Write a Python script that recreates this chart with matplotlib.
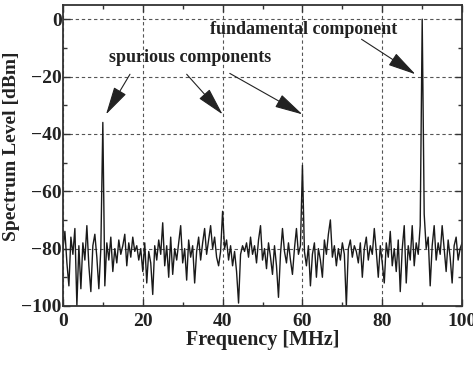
import numpy as np
import matplotlib
matplotlib.use('Agg')
import matplotlib.pyplot as plt

plt.rcParams['font.family'] = ['Liberation Serif', 'DejaVu Serif']
plt.rcParams['font.weight'] = 'bold'
plt.rcParams['axes.unicode_minus'] = True

# noise floor, one value every 0.5 MHz from 0 to 100 MHz
noise_dbm = [
    -80, -74, -85, -93, -76, -82, -73, -100, -79, -94,
    -78, -84, -72, -86, -95, -79, -75, -83, -94, -80,
    -80, -93, -78, -84, -76, -88, -80, -85, -77, -82,
    -79, -75, -86, -78, -83, -76, -81, -79, -84, -80,
    -88, -78, -92, -81, -85, -96, -79, -84, -77, -82,
    -71, -86, -79, -90, -76, -89, -80, -84, -78, -72,
    -85, -80, -91, -77, -83, -79, -92, -81, -76, -84,
    -78, -73, -82, -77, -72, -80, -76, -83, -86, -81,
    -80, -80, -77, -84, -79, -86, -81, -88, -99, -82,
    -79, -81, -78, -83, -76, -82, -79, -85, -77, -72,
    -84, -80, -87, -78, -83, -89, -79, -86, -97, -82,
    -73, -81, -85, -78, -84, -89, -80, -73, -82, -79,
    -80, -81, -86, -79, -93, -82, -78, -90, -80, -84,
    -90, -77, -82, -75, -70, -83, -79, -86, -80, -84,
    -78, -82, -100, -80, -77, -83, -79, -81, -85, -78,
    -90, -80, -76, -84, -79, -82, -73, -81, -90, -79,
    -85, -92, -78, -83, -74, -86, -80, -88, -77, -95,
    -80, -72, -92, -79, -84, -72, -86, -78, -82, -72,
    -80, -68, -80, -76, -93, -79, -72, -84, -78, -82,
    -72, -80, -88, -77, -83, -92, -79, -76, -84, -80,
    -78,
]

# spectral lines: 3 spurious components and the fundamental
tone_mhz = [10, 40, 60, 90]
tone_dbm = [-36, -67, -51, 0]

freq = np.linspace(0, 100, len(noise_dbm))
level = np.array(noise_dbm, dtype=float)
for f, l in zip(tone_mhz, tone_dbm):
    level[np.argmin(np.abs(freq - f))] = l

fig = plt.figure(figsize=(4.73, 3.74), dpi=100)
ax = fig.add_axes([0.133, 0.182, 0.844, 0.805])

ax.plot(freq, level, color='#1a1a1a', lw=1.0)

ax.set_xlim(0, 100)
ax.set_ylim(-100, 5)
ax.set_xticks([0, 20, 40, 60, 80, 100])
ax.set_xticks([10, 30, 50, 70, 90], minor=True)
ax.set_yticks([0, -20, -40, -60, -80, -100])
ax.set_yticks([-10, -30, -50, -70, -90], minor=True)
ax.tick_params(which='both', direction='in', top=True, right=True,
               labelsize=14, width=1.0, color='#333333')
ax.tick_params(axis='y', pad=1)
ax.tick_params(axis='x', pad=5)
ax.tick_params(which='major', length=5)
ax.tick_params(which='minor', length=3)
for lab in ax.get_xticklabels() + ax.get_yticklabels():
    lab.set_fontweight('bold')
    lab.set_color('#222222')

ax.grid(True, which='major', ls=(0, (3, 2.5)), lw=0.8, color='#555555')
for s in ax.spines.values():
    s.set_linewidth(1.3)
    s.set_color('#333333')

ax.set_xlabel('Frequency [MHz]', fontsize=14.5, fontweight='bold', color='#222222', labelpad=0)
ax.set_ylabel('Spectrum Level [dBm]', fontsize=14, fontweight='bold', color='#222222')
ax.yaxis.set_label_coords(-0.108, 0.53)

arrow = dict(arrowstyle='-|>,head_length=0.8,head_width=0.2', color='#222222',
             lw=0.8, mutation_scale=22, shrinkA=0, shrinkB=0)
ax.text(60.25, -3.5, 'fundamental component', fontsize=13, fontweight='bold',
        ha='center', va='center', color='#222222')
ax.annotate('', xy=(88.3, -19.2), xytext=(74.8, -7), arrowprops=arrow)

ax.text(31.75, -13.3, 'spurious components', fontsize=13, fontweight='bold',
        ha='center', va='center', color='#222222')
ax.annotate('', xy=(10.8, -33.2), xytext=(16.8, -19.2), arrowprops=arrow)
ax.annotate('', xy=(40, -33.2), xytext=(31, -19.2), arrowprops=arrow)
ax.annotate('', xy=(60, -33.2), xytext=(41.8, -18.9), arrowprops=arrow)

fig.savefig('out.png', dpi=100)
